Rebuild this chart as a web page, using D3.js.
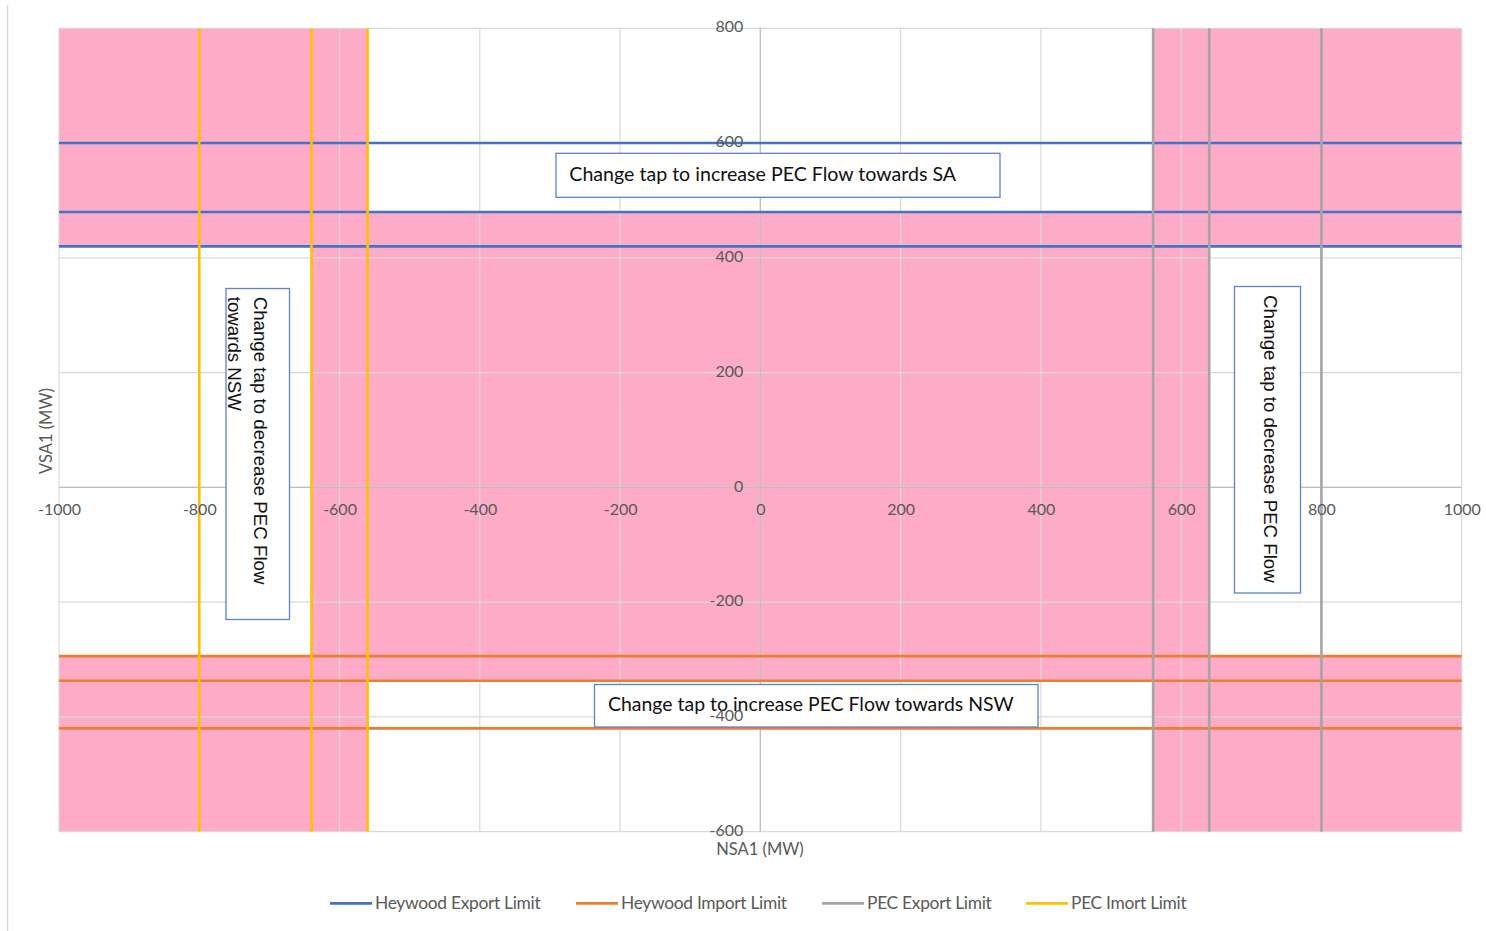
<!DOCTYPE html>
<html>
<head>
<meta charset="utf-8">
<script src="https://cdn.jsdelivr.net/npm/d3@7"></script>
<style>
  body { margin: 0; background: #fff; }
  svg { display: block; }
</style>
</head>
<body>
<svg id="chart" width="1486" height="931"></svg>
<script>
// Axis ticks (MW)
const xTicks = [-1000, -800, -600, -400, -200, 0, 200, 400, 600, 800, 1000];
const yTicks = [-600, -400, -200, 0, 200, 400, 600, 800];

// Limit lines (MW)
const heywoodExport = [600, 480, 420];      // horizontal, VSA1
const heywoodImport = [-294, -337, -420];   // horizontal, VSA1
const pecExport = [560, 640, 800];          // vertical, NSA1
const pecImport = [-800, -640, -560];       // vertical, NSA1

// Shaded regions: [NSA1 min, NSA1 max, VSA1 min, VSA1 max]
const zoneXMin = [-1000, 560, -1000, -640, -1000, -1000, 560];
const zoneXMax = [-560, 1000, 1000, 640, 1000, -560, 1000];
const zoneYMin = [480, 480, 420, -294, -337, -600, -600];
const zoneYMax = [800, 800, 480, 420, -294, -337, -337];

const seriesNames = ["Heywood Export Limit", "Heywood Import Limit", "PEC Export Limit", "PEC Imort Limit"];
const seriesColors = ["#4472C4", "#ED7D31", "#A5A5A5", "#FFC000"];

const svg = d3.select("#chart");
const x = d3.scaleLinear().domain([-1000, 1000]).range([59, 1461.7]);
const y = d3.scaleLinear().domain([-600, 800]).range([831.7, 28.3]);

const labelFont = "Lato, 'Open Sans', sans-serif";
const labelColor = "#595959";

// outer chart border (left edge)
svg.append("line").attr("x1", 7.5).attr("x2", 7.5).attr("y1", 5).attr("y2", 931)
  .attr("stroke", "#d9d9d9").attr("stroke-width", 1.5);

// shaded regions
const zones = zoneXMin.map((d, i) => ({ x0: d, x1: zoneXMax[i], y0: zoneYMin[i], y1: zoneYMax[i] }));
svg.append("g").selectAll("rect").data(zones).join("rect")
  .attr("x", d => x(d.x0)).attr("width", d => x(d.x1) - x(d.x0))
  .attr("y", d => y(d.y1)).attr("height", d => y(d.y0) - y(d.y1))
  .attr("fill", "#FDABC7").attr("shape-rendering", "crispEdges");

// gridlines
const grid = svg.append("g").attr("stroke", "#d9d9d9").attr("stroke-width", 1.2);
grid.selectAll(".gx").data(xTicks).join("line")
  .attr("x1", d => x(d)).attr("x2", d => x(d)).attr("y1", y(800)).attr("y2", y(-600));
grid.selectAll(".gy").data(yTicks).join("line")
  .attr("y1", d => y(d)).attr("y2", d => y(d)).attr("x1", x(-1000)).attr("x2", x(1000));

// zero axes
svg.append("line").attr("x1", x(0)).attr("x2", x(0)).attr("y1", y(800)).attr("y2", y(-600))
  .attr("stroke", "#bfbfbf").attr("stroke-width", 1.3);
svg.append("line").attr("y1", y(0)).attr("y2", y(0)).attr("x1", x(-1000)).attr("x2", x(1000))
  .attr("stroke", "#bfbfbf").attr("stroke-width", 1.3);

// limit lines
const lw = 2.6;
const hLines = (vals, color) => svg.append("g").selectAll("line").data(vals).join("line")
  .attr("x1", x(-1000)).attr("x2", x(1000)).attr("y1", d => y(d)).attr("y2", d => y(d))
  .attr("stroke", color).attr("stroke-width", lw);
const vLines = (vals, color) => svg.append("g").selectAll("line").data(vals).join("line")
  .attr("y1", y(800)).attr("y2", y(-600)).attr("x1", d => x(d)).attr("x2", d => x(d))
  .attr("stroke", color).attr("stroke-width", lw);
hLines(heywoodExport, seriesColors[0]);
hLines(heywoodImport, seriesColors[1]);
vLines(pecExport, seriesColors[2]);
vLines(pecImport, seriesColors[3]);

// scale a text's font-size so that it spans the given width
function fitWidth(sel, width) {
  const w = sel.node().getComputedTextLength();
  const fs = parseFloat(sel.style("font-size"));
  sel.style("font-size", (fs * width / w) + "px");
  return fs * width / w;
}

// note boxes
const boxStroke = "#5B83CF";
function hBox(bx, by, bw, bh, tx, ty, tw, label) {
  svg.append("rect").attr("x", bx).attr("y", by).attr("width", bw).attr("height", bh)
    .attr("fill", "#fff").attr("stroke", boxStroke).attr("stroke-width", 1.3);
  const t = svg.append("text").attr("x", tx).attr("y", ty).attr("fill", "#111")
    .style("font-family", labelFont).style("font-size", "20px").text(label);
  fitWidth(t, tw);
}
function vBox(bx, by, bw, bh, lines) {
  svg.append("rect").attr("x", bx).attr("y", by).attr("width", bw).attr("height", bh)
    .attr("fill", "#fff").attr("stroke", boxStroke).attr("stroke-width", 1.3);
  let fs = null;
  lines.forEach(l => {
    const t = svg.append("text").attr("transform", `translate(${l.cx},${l.y0}) rotate(90)`)
      .attr("dominant-baseline", "central").attr("fill", "#111")
      .style("font-family", "'Liberation Sans', Arial, sans-serif").style("font-size", "19px").text(l.text);
    if (fs === null) fs = fitWidth(t, l.len); else t.style("font-size", fs + "px");
  });
}

hBox(556, 153.3, 444, 44, 569.3, 180.5, 387, "Change tap to increase PEC Flow towards SA");
hBox(594.5, 684.5, 443.5, 42.5, 608, 710.5, 406, "Change tap to increase PEC Flow towards NSW");
vBox(226, 288.5, 63.5, 331, [
  { cx: 260, y0: 296.7, len: 288, text: "Change tap to decrease PEC Flow" },
  { cx: 234, y0: 296.7, len: 118, text: "towards NSW" }
]);
vBox(1234.5, 286.5, 66, 306.5, [
  { cx: 1270, y0: 295, len: 288, text: "Change tap to decrease PEC Flow" }
]);

// axes (labels only, crossing at zero), drawn above the note boxes
const styleAxis = g => {
  g.select(".domain").remove();
  g.selectAll(".tick line").remove();
  g.selectAll("text").attr("fill", labelColor).style("font-family", labelFont).style("font-size", "16px");
};
const plainFormat = d => String(d);
svg.append("g").attr("transform", `translate(${x(0)},-1.5)`)
  .call(d3.axisLeft(y).tickValues(yTicks).tickSize(0).tickPadding(17).tickFormat(plainFormat))
  .call(styleAxis);
svg.append("g").attr("transform", `translate(0,${y(0)})`)
  .call(d3.axisBottom(x).tickValues(xTicks).tickSize(0).tickPadding(16).tickFormat(plainFormat))
  .call(styleAxis);

// axis titles
svg.append("text").attr("x", 760).attr("y", 855).attr("text-anchor", "middle")
  .attr("fill", labelColor).style("font-family", labelFont).style("font-size", "16.5px").text("NSA1 (MW)");
svg.append("text").attr("transform", "translate(52,431) rotate(-90)").attr("text-anchor", "middle")
  .attr("fill", labelColor).style("font-family", labelFont).style("font-size", "16.5px").text("VSA1 (MW)");

// legend
const legendX = [330, 576, 822, 1026];
const legend = svg.append("g");
let legendFs = null;
seriesNames.forEach((name, i) => {
  legend.append("line").attr("x1", legendX[i]).attr("x2", legendX[i] + 42)
    .attr("y1", 903.3).attr("y2", 903.3).attr("stroke", seriesColors[i]).attr("stroke-width", 2.8);
  const t = legend.append("text").attr("x", legendX[i] + 45).attr("y", 908.5)
    .attr("fill", labelColor).style("font-family", labelFont).style("font-size", "16px")
    .style("letter-spacing", "-0.3px").text(name);
  if (legendFs === null) legendFs = fitWidth(t, 165); else t.style("font-size", legendFs + "px");
});
</script>
</body>
</html>
